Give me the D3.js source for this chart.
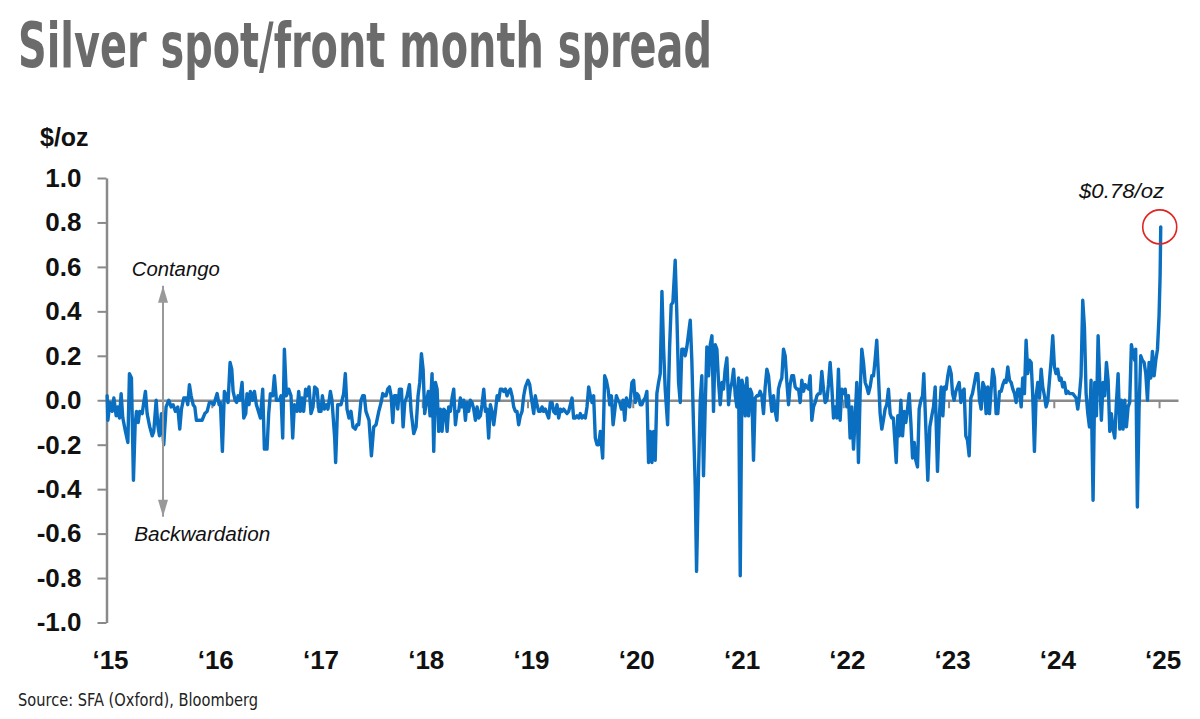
<!DOCTYPE html>
<html>
<head>
<meta charset="utf-8">
<script src="https://cdn.jsdelivr.net/npm/d3@7"></script>
<style>
  html, body { margin: 0; padding: 0; background: #fff; }
  svg { display: block; }
</style>
</head>
<body>
<div id="chart"></div>
<script>
// Silver spot/front month spread, $/oz, roughly weekly readings 2015 - Jan 2025.
// Dates are decimal years.

const dates = [
  2015.006, 2015.013, 2015.032, 2015.054, 2015.070, 2015.092, 2015.108, 2015.123, 2015.139, 2015.155,
  2015.180, 2015.203, 2015.218, 2015.237, 2015.256, 2015.272, 2015.285, 2015.301, 2015.316, 2015.339,
  2015.354, 2015.370, 2015.386, 2015.411, 2015.434, 2015.449, 2015.472, 2015.487, 2015.503, 2015.522,
  2015.544, 2015.566, 2015.592, 2015.614, 2015.633, 2015.655, 2015.677, 2015.696, 2015.712, 2015.734,
  2015.759, 2015.772, 2015.788, 2015.804, 2015.823, 2015.839, 2015.854, 2015.877, 2015.908, 2015.934,
  2015.956, 2015.978, 2015.997,
  2016.019, 2016.051, 2016.070, 2016.082, 2016.101, 2016.120, 2016.139, 2016.155, 2016.174, 2016.190,
  2016.203, 2016.222, 2016.237, 2016.250, 2016.266, 2016.288, 2016.304, 2016.323, 2016.335, 2016.354,
  2016.367, 2016.386, 2016.405, 2016.424, 2016.443, 2016.462, 2016.484, 2016.500, 2016.525, 2016.541,
  2016.557, 2016.579, 2016.595, 2016.614, 2016.642, 2016.658, 2016.674, 2016.690, 2016.709, 2016.731,
  2016.753, 2016.769, 2016.785, 2016.810, 2016.826, 2016.842, 2016.858, 2016.873, 2016.892, 2016.905,
  2016.924, 2016.943, 2016.962, 2016.978,
  2017.000, 2017.019, 2017.038, 2017.051, 2017.070, 2017.089, 2017.104, 2017.127, 2017.142, 2017.168,
  2017.177, 2017.196, 2017.228, 2017.253, 2017.269, 2017.285, 2017.304, 2017.323, 2017.342, 2017.364,
  2017.380, 2017.396, 2017.418, 2017.434, 2017.449, 2017.465, 2017.494, 2017.517, 2017.539, 2017.561,
  2017.587, 2017.609, 2017.625, 2017.640, 2017.656, 2017.672, 2017.688, 2017.704, 2017.720, 2017.735,
  2017.751, 2017.767, 2017.783, 2017.802, 2017.818, 2017.834, 2017.856, 2017.878, 2017.894, 2017.919,
  2017.941, 2017.960, 2017.976, 2017.992,
  2018.008, 2018.023, 2018.039, 2018.058, 2018.074, 2018.093, 2018.109, 2018.125, 2018.141, 2018.156,
  2018.172, 2018.188, 2018.204, 2018.220, 2018.236, 2018.251, 2018.267, 2018.283, 2018.299, 2018.315,
  2018.330, 2018.346, 2018.362, 2018.378, 2018.394, 2018.410, 2018.425, 2018.441, 2018.457, 2018.473,
  2018.489, 2018.505, 2018.521, 2018.536, 2018.552, 2018.568, 2018.584, 2018.600, 2018.615, 2018.631,
  2018.647, 2018.663, 2018.679, 2018.695, 2018.711, 2018.726, 2018.742, 2018.758, 2018.774, 2018.790,
  2018.805, 2018.821, 2018.837, 2018.853, 2018.869, 2018.885, 2018.900, 2018.916, 2018.932, 2018.948,
  2018.964, 2018.980,
  2019.005, 2019.021, 2019.043, 2019.059, 2019.074, 2019.090, 2019.106, 2019.122, 2019.138, 2019.153,
  2019.169, 2019.185, 2019.201, 2019.217, 2019.233, 2019.248, 2019.264, 2019.280, 2019.296, 2019.312,
  2019.328, 2019.343, 2019.359, 2019.375, 2019.391, 2019.407, 2019.423, 2019.438, 2019.454, 2019.470,
  2019.486, 2019.502, 2019.518, 2019.534, 2019.549, 2019.565, 2019.581, 2019.597, 2019.613, 2019.628,
  2019.644, 2019.660, 2019.676, 2019.692, 2019.714, 2019.733, 2019.749, 2019.765, 2019.781, 2019.797,
  2019.813, 2019.828, 2019.844, 2019.860, 2019.876, 2019.892, 2019.908, 2019.924, 2019.939, 2019.955,
  2019.971, 2019.992,
  2020.008, 2020.024, 2020.039, 2020.055, 2020.071, 2020.087, 2020.103, 2020.118, 2020.134, 2020.150,
  2020.166, 2020.182, 2020.198, 2020.213, 2020.229, 2020.245, 2020.261, 2020.277, 2020.293, 2020.308,
  2020.331, 2020.350, 2020.365, 2020.381, 2020.403, 2020.419, 2020.435, 2020.451, 2020.466, 2020.482,
  2020.498, 2020.514, 2020.530, 2020.546, 2020.561, 2020.577, 2020.593, 2020.606, 2020.625, 2020.641,
  2020.656, 2020.672, 2020.688, 2020.704, 2020.720, 2020.736, 2020.752, 2020.767, 2020.783, 2020.799,
  2020.815, 2020.831, 2020.847, 2020.862, 2020.878, 2020.894, 2020.910, 2020.926, 2020.942, 2020.958,
  2020.974, 2020.989,
  2021.005, 2021.021, 2021.037, 2021.052, 2021.068, 2021.084, 2021.100, 2021.116, 2021.131, 2021.147,
  2021.163, 2021.179, 2021.195, 2021.210, 2021.226, 2021.242, 2021.258, 2021.274, 2021.290, 2021.305,
  2021.321, 2021.337, 2021.353, 2021.369, 2021.384, 2021.400, 2021.416, 2021.432, 2021.448, 2021.464,
  2021.480, 2021.495, 2021.511, 2021.527, 2021.543, 2021.559, 2021.575, 2021.590, 2021.606, 2021.622,
  2021.638, 2021.654, 2021.669, 2021.685, 2021.701, 2021.717, 2021.733, 2021.749, 2021.765, 2021.780,
  2021.796, 2021.812, 2021.828, 2021.844, 2021.859, 2021.875, 2021.891, 2021.907, 2021.923, 2021.939,
  2021.954, 2021.970, 2021.986,
  2022.002, 2022.018, 2022.033, 2022.049, 2022.065, 2022.081, 2022.097, 2022.113, 2022.128, 2022.144,
  2022.160, 2022.176, 2022.192, 2022.208, 2022.223, 2022.239, 2022.255, 2022.271, 2022.287, 2022.302,
  2022.318, 2022.334, 2022.350, 2022.366, 2022.381, 2022.397, 2022.413, 2022.429, 2022.445, 2022.460,
  2022.476, 2022.503, 2022.518, 2022.531, 2022.547, 2022.563, 2022.579, 2022.594, 2022.610, 2022.626,
  2022.642, 2022.658, 2022.674, 2022.689, 2022.705, 2022.721, 2022.737, 2022.753, 2022.765, 2022.784,
  2022.803, 2022.822, 2022.841, 2022.857, 2022.873, 2022.895, 2022.914, 2022.930, 2022.946, 2022.961,
  2022.977, 2022.993,
  2023.009, 2023.025, 2023.038, 2023.053, 2023.069, 2023.085, 2023.101, 2023.117, 2023.132, 2023.148,
  2023.164, 2023.180, 2023.196, 2023.212, 2023.227, 2023.243, 2023.262, 2023.278, 2023.294, 2023.310,
  2023.326, 2023.341, 2023.357, 2023.373, 2023.389, 2023.405, 2023.420, 2023.436, 2023.452, 2023.468,
  2023.484, 2023.500, 2023.516, 2023.532, 2023.547, 2023.563, 2023.579, 2023.595, 2023.611, 2023.627,
  2023.642, 2023.658, 2023.674, 2023.690, 2023.705, 2023.721, 2023.737, 2023.753, 2023.769, 2023.785,
  2023.800, 2023.816, 2023.832, 2023.848, 2023.864, 2023.880, 2023.895, 2023.911, 2023.927, 2023.943,
  2023.959, 2023.975, 2023.990,
  2024.006, 2024.021, 2024.037, 2024.054, 2024.069, 2024.085, 2024.101, 2024.117, 2024.133, 2024.149,
  2024.165, 2024.180, 2024.196, 2024.212, 2024.228, 2024.243, 2024.259, 2024.275, 2024.291, 2024.307,
  2024.323, 2024.339, 2024.354, 2024.373, 2024.389, 2024.405, 2024.421, 2024.437, 2024.452, 2024.468,
  2024.484, 2024.500, 2024.516, 2024.532, 2024.547, 2024.563, 2024.579, 2024.595, 2024.611, 2024.627,
  2024.642, 2024.658, 2024.674, 2024.690, 2024.706, 2024.721, 2024.737, 2024.753, 2024.769, 2024.778,
  2024.794, 2024.810, 2024.826, 2024.842, 2024.858, 2024.874, 2024.890, 2024.905, 2024.921, 2024.937,
  2024.953, 2024.969, 2024.985,
  2025.000, 2025.010, 2025.016
];

const spread = [
  0.02, -0.09, -0.01, -0.05, 0.01, -0.07, -0.03, -0.08, 0.03, -0.08,
  -0.14, -0.19, 0.12, 0.10, -0.36, -0.11, -0.05, -0.10, -0.05, -0.06,
  -0.01, 0.04, -0.06, -0.12, -0.16, -0.14, 0.00, -0.11, -0.16, -0.06,
  -0.20, -0.03, 0.00, -0.03, -0.02, -0.05, -0.03, -0.13, -0.04, 0.01,
  0.01, -0.02, 0.07, 0.02, -0.02, -0.03, -0.09, -0.09, -0.09, -0.06,
  -0.05, -0.01, -0.01,
  -0.02, 0.03, -0.02, -0.01, -0.23, 0.04, 0.02, -0.01, 0.17, 0.14,
  0.04, 0.00, -0.01, 0.02, 0.00, 0.08, -0.08, -0.06, 0.03, -0.02,
  0.04, 0.00, 0.04, -0.02, -0.05, -0.08, 0.05, -0.22, -0.22, -0.06,
  0.03, 0.02, 0.11, 0.00, 0.00, 0.02, -0.17, 0.23, 0.02, 0.05,
  0.02, -0.17, -0.02, -0.05, 0.04, -0.05, 0.01, -0.05, 0.05, 0.02,
  0.06, -0.06, -0.03, 0.06,
  0.05, -0.05, -0.05, 0.02, -0.04, -0.02, -0.04, 0.04, 0.00, -0.17,
  -0.28, -0.02, -0.02, 0.03, 0.12, -0.04, -0.08, -0.05, -0.12, -0.13,
  -0.11, -0.11, 0.00, 0.02, 0.02, -0.05, -0.09, -0.25, -0.12, -0.11,
  -0.05, -0.01, 0.03, 0.02, 0.02, 0.05, 0.06, 0.02, -0.10, 0.02,
  0.02, -0.04, 0.05, 0.05, -0.12, -0.01, 0.02, 0.07, -0.05, -0.15,
  -0.12, 0.02, 0.08, 0.21,
  0.14, -0.06, -0.01, 0.04, -0.07, 0.12, -0.23, 0.08, 0.05, -0.14,
  -0.04, -0.14, -0.04, -0.05, -0.14, -0.03, -0.05, 0.01, 0.05, -0.11,
  -0.05, -0.05, 0.01, -0.03, 0.00, -0.09, -0.01, -0.05, 0.00, -0.01,
  -0.04, -0.09, -0.03, -0.08, -0.07, -0.02, 0.05, -0.05, -0.04, -0.17,
  -0.02, -0.05, -0.11, -0.05, 0.02, 0.00, 0.05, 0.05, 0.04, 0.05,
  0.02, 0.04, 0.05, 0.02, -0.03, -0.05, -0.05, -0.11, -0.07, -0.05,
  0.02, 0.06,
  0.09, 0.07, -0.01, -0.06, 0.02, -0.02, -0.05, -0.05, -0.03, -0.05,
  -0.04, -0.06, -0.08, -0.01, -0.01, -0.05, -0.06, -0.02, -0.08, -0.04,
  -0.05, -0.04, -0.05, -0.06, -0.05, -0.02, 0.01, -0.08, -0.08, -0.07,
  -0.08, -0.06, -0.08, -0.07, -0.08, -0.03, 0.06, 0.02, -0.01, 0.02,
  -0.17, -0.20, -0.20, -0.14, -0.26, 0.11, 0.09, 0.05, -0.02, 0.02,
  -0.11, -0.05, 0.02, 0.00, -0.01, -0.04, 0.00, -0.09, 0.01, -0.02,
  -0.03, 0.08,
  0.09, -0.01, 0.03, 0.02, -0.02, -0.02, 0.00, 0.01, 0.04, -0.28,
  -0.14, -0.28, -0.14, -0.27, 0.03, 0.08, 0.12, 0.49, 0.23, 0.05,
  -0.11, 0.24, 0.43, 0.44, 0.63, 0.38, 0.08, -0.01, 0.23, 0.23,
  0.20, 0.24, 0.30, 0.36, 0.18, -0.11, -0.38, -0.77, -0.32, 0.00,
  0.11, -0.34, -0.03, 0.24, 0.11, 0.25, 0.29, -0.05, 0.25, 0.23,
  0.08, -0.02, 0.08, 0.05, 0.14, 0.19, -0.02, 0.05, 0.08, 0.14,
  0.02, -0.03,
  0.10, -0.79, 0.09, 0.06, -0.07, 0.10, -0.07, 0.05, 0.03, -0.27,
  0.01, 0.02, 0.02, 0.04, 0.02, -0.06, 0.06, 0.14, 0.11, 0.02,
  -0.05, 0.02, -0.05, -0.09, 0.05, 0.08, 0.10, 0.23, 0.20, 0.08,
  -0.02, 0.07, 0.11, 0.11, 0.06, 0.05, 0.05, -0.01, 0.09, 0.04,
  0.07, 0.06, 0.05, 0.11, -0.09, -0.03, -0.01, 0.02, 0.03, 0.03,
  0.13, 0.05, -0.01, 0.00, 0.07, 0.17, 0.06, -0.08, -0.03, -0.08,
  0.14, -0.09, 0.05,
  0.03, 0.05, -0.03, 0.02, -0.17, -0.03, -0.22, -0.08, 0.08, -0.28,
  0.03, 0.23, 0.17, 0.08, 0.06, 0.03, 0.06, 0.11, 0.11, 0.18,
  0.27, 0.11, -0.06, -0.13, -0.09, -0.04, -0.02, 0.05, -0.06, -0.08,
  -0.08, -0.28, -0.07, -0.16, 0.00, -0.16, -0.05, -0.10, -0.04, 0.03,
  -0.10, -0.26, -0.19, -0.27, -0.30, -0.04, 0.00, 0.02, 0.12, -0.12,
  -0.36, -0.12, -0.07, -0.03, 0.06, -0.32, -0.06, 0.06, -0.07, 0.06,
  0.05, 0.11,
  0.15, 0.12, 0.03, 0.00, 0.04, 0.06, 0.08, -0.01, 0.04, 0.05,
  -0.16, -0.18, -0.25, 0.01, 0.03, 0.07, 0.12, 0.12, 0.00, -0.04,
  0.08, 0.06, -0.06, 0.06, -0.06, 0.05, 0.14, 0.10, -0.06, -0.06,
  0.04, 0.04, 0.07, 0.09, 0.08, 0.15, 0.09, 0.08, 0.05, 0.03,
  -0.01, 0.05, 0.05, -0.03, 0.10, 0.03, 0.27, 0.12, 0.18, 0.17,
  0.02, -0.23, 0.02, 0.08, 0.01, 0.14, 0.06, 0.02, -0.03, 0.00,
  0.09, 0.18, 0.29,
  0.15, 0.12, 0.14, 0.09, 0.10, 0.06, 0.08, 0.03, 0.04, 0.03,
  0.03, 0.03, 0.02, 0.01, -0.04, 0.02, 0.11, 0.45, 0.33, 0.03,
  -0.06, -0.12, 0.09, -0.45, 0.08, -0.07, 0.29, 0.08, -0.09, 0.08,
  0.02, 0.17, 0.09, -0.14, -0.06, -0.13, -0.17, -0.01, 0.12, -0.13,
  0.00, -0.13, 0.00, -0.12, -0.03, -0.01, 0.25, 0.21, 0.18, 0.23,
  -0.48, -0.04, 0.20, 0.18, 0.17, 0.12, 0.00, 0.17, 0.10, 0.22,
  0.11, 0.18, 0.23,
  0.38, 0.56, 0.78
];

const yTicks = [-1.0, -0.8, -0.6, -0.4, -0.2, 0.0, 0.2, 0.4, 0.6, 0.8, 1.0];
const yearTicks = [2015, 2016, 2017, 2018, 2019, 2020, 2021, 2022, 2023, 2024, 2025];
const yearLabels = ["\u201815", "\u201816", "\u201817", "\u201818", "\u201819", "\u201820",
                    "\u201821", "\u201822", "\u201823", "\u201824", "\u201825"];

const width = 1200, height = 719;
const BLUE = "#0a6fc0", AXIS = "#8a8a8a", INK = "#111111";
const SANS = "'Liberation Sans', Arial, sans-serif";
const NARROW = "'Liberation Sans Narrow', 'DejaVu Sans Condensed', sans-serif";

const svg = d3.select("#chart").append("svg")
  .attr("width", width).attr("height", height)
  .attr("viewBox", `0 0 ${width} ${height}`);

const x = d3.scaleLinear().domain([2015, 2025.18]).range([106.5, 1178]);
const y = d3.scaleLinear().domain([-1, 1]).range([622.5, 178]);

// title + source
svg.append("text")
  .attr("x", 18).attr("y", 67)
  .attr("fill", "#6b6b6b")
  .style("font-family", NARROW).style("font-weight", 700).style("font-size", "62px")
  .attr("textLength", 694).attr("lengthAdjust", "spacingAndGlyphs")
  .text("Silver spot/front month spread");

svg.append("text")
  .attr("x", 18).attr("y", 706)
  .attr("fill", "#222")
  .style("font-family", NARROW).style("font-size", "18px")
  .attr("textLength", 240).attr("lengthAdjust", "spacingAndGlyphs")
  .text("Source: SFA (Oxford), Bloomberg");

// unit label
svg.append("text")
  .attr("x", 40).attr("y", 146)
  .attr("fill", INK)
  .style("font-family", SANS).style("font-weight", 700).style("font-size", "25px")
  .text("$/oz");

// y axis (plain hyphen for negatives, as in the original)
svg.append("g")
  .attr("transform", `translate(${x(2015)},0)`)
  .call(d3.axisLeft(y).tickValues(yTicks).tickFormat((d) => d.toFixed(1))
    .tickSize(9).tickSizeOuter(0).tickPadding(16))
  .call((g) => g.select(".domain").attr("stroke", AXIS).attr("stroke-width", 2.5))
  .call((g) => g.selectAll(".tick line").attr("stroke", AXIS).attr("stroke-width", 2))
  .selectAll("text")
  .attr("fill", INK)
  .style("font-family", SANS).style("font-weight", 700).style("font-size", "26px");

// zero line with year ticks
svg.append("g")
  .attr("transform", `translate(0,${y(0)})`)
  .call(d3.axisBottom(x).tickValues(yearTicks).tickFormat("").tickSize(8).tickSizeOuter(0))
  .call((g) => g.select(".domain").attr("stroke", AXIS).attr("stroke-width", 2.5))
  .call((g) => g.selectAll(".tick line").attr("stroke", AXIS).attr("stroke-width", 2));

// year labels
svg.append("g").selectAll("text")
  .data(yearTicks)
  .join("text")
  .attr("x", (d) => x(d) + 4).attr("y", 669)
  .attr("text-anchor", "middle")
  .attr("fill", INK)
  .style("font-family", SANS).style("font-weight", 700).style("font-size", "26px")
  .text((d, i) => yearLabels[i]);

// the series
const pts = dates.map((d, i) => [d, spread[i]]);
svg.append("path")
  .datum(pts)
  .attr("fill", "none")
  .attr("stroke", BLUE)
  .attr("stroke-width", 3.4)
  .attr("stroke-linejoin", "round")
  .attr("stroke-linecap", "round")
  .attr("d", d3.line().x((d) => x(d[0])).y((d) => y(d[1])));

// contango / backwardation arrow
const arrowX = 2015.537;
svg.append("line")
  .attr("x1", x(arrowX)).attr("x2", x(arrowX))
  .attr("y1", y(0.515)).attr("y2", y(-0.524))
  .attr("stroke", "#999").attr("stroke-width", 2);
svg.append("path")
  .attr("d", `M${x(arrowX)},${y(0.515)} l-5,17 l10,0 Z`)
  .attr("fill", "#999");
svg.append("path")
  .attr("d", `M${x(arrowX)},${y(-0.524)} l-5,-17 l10,0 Z`)
  .attr("fill", "#999");

svg.append("text")
  .attr("x", x(2015.24)).attr("y", y(0.56))
  .attr("fill", INK)
  .style("font-family", SANS).style("font-style", "italic").style("font-size", "20px")
  .attr("textLength", 88).attr("lengthAdjust", "spacingAndGlyphs")
  .text("Contango");

svg.append("text")
  .attr("x", x(2015.264)).attr("y", y(-0.633))
  .attr("fill", INK)
  .style("font-family", SANS).style("font-style", "italic").style("font-size", "20px")
  .attr("textLength", 136).attr("lengthAdjust", "spacingAndGlyphs")
  .text("Backwardation");

// latest reading callout
const last = pts[pts.length - 1];
svg.append("circle")
  .attr("cx", x(last[0]) - 1).attr("cy", y(last[1]))
  .attr("r", 17)
  .attr("fill", "none")
  .attr("stroke", "#e02424").attr("stroke-width", 1.6);

svg.append("text")
  .attr("x", x(2024.24)).attr("y", y(0.912))
  .attr("fill", INK)
  .style("font-family", SANS).style("font-style", "italic").style("font-size", "20px")
  .attr("textLength", 85).attr("lengthAdjust", "spacingAndGlyphs")
  .text(`$${last[1].toFixed(2)}/oz`);
</script>
</body>
</html>
